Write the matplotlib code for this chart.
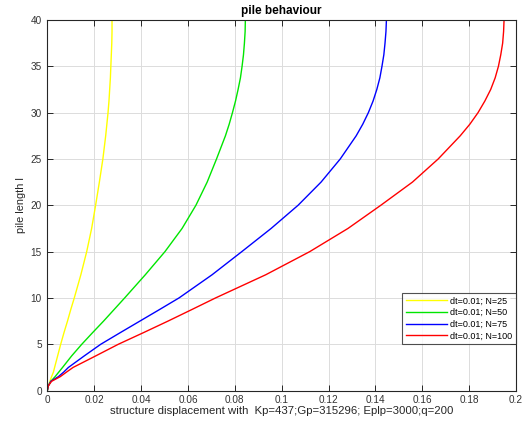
import matplotlib
matplotlib.use("Agg")
import matplotlib.pyplot as plt

plt.rcParams['font.family'] = ['Liberation Sans', 'DejaVu Sans']

y_levels = [0, 0.5, 1, 1.5, 2, 2.5, 3.75, 5, 6.25, 7.5, 8.75, 10, 12.5, 15, 17.5,
            20, 22.5, 25, 27.5, 28.75, 30, 31.25, 32.5, 33.75, 35, 36.25, 37.5,
            38.75, 40]

# Displacements (x) at those pile lengths, one list per series
x_yellow = [0, 0.0004, 0.0011, 0.0018, 0.0026, 0.0031, 0.0044, 0.0057, 0.0071,
            0.0086, 0.0100, 0.0115, 0.0143, 0.0168, 0.0189, 0.0206, 0.0222,
            0.0237, 0.0249, 0.0254, 0.0259, 0.0263, 0.0266, 0.0269, 0.0271,
            0.0273, 0.0275, 0.0276, 0.0276]
x_green = [0, 0.0004, 0.0015, 0.0033, 0.0049, 0.0065, 0.0104, 0.0147, 0.0193,
           0.0240, 0.0285, 0.0330, 0.0418, 0.0502, 0.0575, 0.0634, 0.0682,
           0.0722, 0.0760, 0.0776, 0.0790, 0.0803, 0.0814, 0.0824, 0.0831,
           0.0837, 0.0841, 0.0844, 0.0845]
x_blue = [0, 0.0004, 0.0015, 0.0047, 0.0070, 0.0090, 0.0158, 0.0228, 0.0311,
          0.0395, 0.0479, 0.0562, 0.0703, 0.0830, 0.0955, 0.1070, 0.1168,
          0.1250, 0.1318, 0.1346, 0.1370, 0.1390, 0.1406, 0.1419, 0.1428,
          0.1436, 0.1441, 0.1445, 0.1447]
x_red = [0, 0.0004, 0.0018, 0.0055, 0.0082, 0.0110, 0.0207, 0.0303, 0.0410,
         0.0515, 0.0617, 0.0718, 0.0932, 0.1120, 0.1283, 0.1423, 0.1558,
         0.1668, 0.1762, 0.1803, 0.1838, 0.1867, 0.1892, 0.1911, 0.1925,
         0.1935, 0.1943, 0.1947, 0.1949]

labels = ['dt=0.01; N=25', 'dt=0.01; N=50', 'dt=0.01; N=75', 'dt=0.01; N=100']
colors = ['#ffff00', '#00e600', '#0000ff', '#ff0000']

x_ticks = [0, 0.02, 0.04, 0.06, 0.08, 0.1, 0.12, 0.14, 0.16, 0.18, 0.2]
x_ticklabels = ['0', '0.02', '0.04', '0.06', '0.08', '0.1', '0.12', '0.14',
                '0.16', '0.18', '0.2']
y_ticks = [0, 5, 10, 15, 20, 25, 30, 35, 40]

fig = plt.figure(figsize=(5.26, 4.25), dpi=100)
ax = fig.add_axes([0.090, 0.081, 0.891, 0.872])

for xs, c, lab in zip([x_yellow, x_green, x_blue, x_red], colors, labels):
    ax.plot(xs, y_levels, color=c, lw=1.0, label=lab)

ax.set_xlim(0, 0.2)
ax.set_ylim(0, 40)
ax.set_xticks(x_ticks)
ax.set_xticklabels(x_ticklabels)
ax.set_yticks(y_ticks)
ax.grid(True, color='#dcdcdc', lw=0.7)
ax.set_axisbelow(True)
ax.tick_params(direction='in', top=True, right=True, length=4, width=0.7,
               labelsize=7.2, colors='#262626', labelcolor='#333333')
ax.tick_params(axis='y', pad=4)
ax.tick_params(axis='x', pad=3)
for s in ax.spines.values():
    s.set_color('#262626')
    s.set_linewidth(0.8)

ax.set_title('pile behaviour', fontsize=8.5, fontweight='bold', pad=4)
ax.set_xlabel('structure displacement with  Kp=437;Gp=315296; Eplp=3000;q=200',
              fontsize=8.2, color='#262626', labelpad=1)
ax.set_ylabel('pile length l', fontsize=7.8, color='#262626', labelpad=3)

leg = ax.legend(loc='lower right', bbox_to_anchor=(1.0, 0.125), borderaxespad=0,
                fontsize=6.5, frameon=True, fancybox=False, handlelength=4.5,
                handletextpad=0.4, labelspacing=0.3, borderpad=0.4)
leg.get_frame().set_edgecolor('#262626')
leg.get_frame().set_linewidth(0.8)

fig.savefig('out.png', dpi=100, facecolor='white')
